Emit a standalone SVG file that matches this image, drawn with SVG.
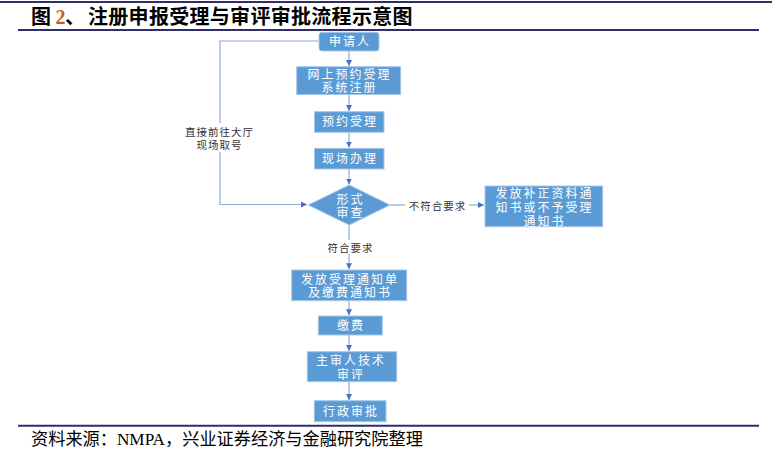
<svg xmlns="http://www.w3.org/2000/svg" width="781" height="473" viewBox="0 0 781 473">
<defs>
<style>
.rule{stroke:#2F2E6B;stroke-width:2;fill:none}
.box{fill:#5B9BD5;stroke:#A8C8EA;stroke-width:1}
.bt{font-family:"Noto Sans CJK SC","Noto Sans",sans-serif;font-size:12px;fill:#ffffff;letter-spacing:2px;text-anchor:middle}
.lbl{font-family:"Noto Sans CJK SC","Noto Sans",sans-serif;font-size:10.5px;fill:#333333;letter-spacing:1px;text-anchor:middle}
.con{stroke:#8FAADC;stroke-width:1.2;fill:none}
.title{font-family:"Noto Sans CJK SC",sans-serif;font-size:20px;font-weight:bold;fill:#000000}
.foot{font-family:"Liberation Serif","Noto Sans CJK SC",serif;font-size:17.2px;fill:#000000}
</style>
<marker id="arr" markerUnits="userSpaceOnUse" markerWidth="7" markerHeight="7" refX="6" refY="3" orient="auto">
<path d="M0,0 L6,3 L0,6 z" fill="#4472C4"/>
</marker>
</defs>
<rect width="781" height="473" fill="#ffffff"/>
<g id="header">
<line class="rule" x1="0" y1="2" x2="772" y2="2"/>
<text class="title" y="24"><tspan x="31">图</tspan><tspan x="55.5" font-family="Liberation Serif,serif" fill="#C0601A">2</tspan><tspan x="65">、</tspan><tspan x="88" letter-spacing="0.3">注册申报受理与审评审批流程示意图</tspan></text>
<line class="rule" x1="18" y1="30" x2="759" y2="30"/>
</g>
<g id="connectors">
<path class="con" d="M318,41 H220 V123"/>
<path class="con" d="M220,152 V204.5 H307" marker-end="url(#arr)"/>
<path class="con" d="M349,51 V66" marker-end="url(#arr)"/>
<path class="con" d="M349,94.5 V111" marker-end="url(#arr)"/>
<path class="con" d="M349,132.3 V147.6" marker-end="url(#arr)"/>
<path class="con" d="M349,169 V184.5" marker-end="url(#arr)"/>
<path class="con" d="M349,225 V240"/>
<path class="con" d="M349,254 V269.3" marker-end="url(#arr)"/>
<path class="con" d="M390,205 H405"/>
<path class="con" d="M469,205 H484" marker-end="url(#arr)"/>
<path class="con" d="M349,300.7 V315.3" marker-end="url(#arr)"/>
<path class="con" d="M349,335 V351" marker-end="url(#arr)"/>
<path class="con" d="M349,381.7 V400" marker-end="url(#arr)"/>
<text class="lbl" x="219.5" y="135.5">直接前往大厅</text>
<text class="lbl" x="219.5" y="149">现场取号</text>
<text class="lbl" x="437.5" y="209.5">不符合要求</text>
<text class="lbl" x="350.5" y="251.5">符合要求</text>
</g>
<g id="n-applicant">
<rect class="box" x="319" y="32.3" width="60" height="18.7" rx="3"/>
<text class="bt" x="350" y="46.2" letter-spacing="3">申请人</text>
</g>
<g id="n-online">
<rect class="box" x="296.7" y="66.7" width="104" height="27.8"/>
<text class="bt" x="349.5" y="78.5">网上预约受理</text>
<text class="bt" x="349.5" y="92">系统注册</text>
</g>
<g id="n-reserve">
<rect class="box" x="314.5" y="111.7" width="69.5" height="20.6"/>
<text class="bt" x="350" y="126.3">预约受理</text>
</g>
<g id="n-onsite">
<rect class="box" x="314.5" y="148.3" width="69.5" height="20.7"/>
<text class="bt" x="350" y="163">现场办理</text>
</g>
<g id="n-formal">
<polygon class="box" points="349.2,185 390,205 349.2,225 308.3,205"/>
<text class="bt" x="350.5" y="203.5" letter-spacing="3">形式</text>
<text class="bt" x="350.5" y="217.2" letter-spacing="3">审查</text>
</g>
<g id="n-reject">
<rect class="box" x="485" y="186" width="117.7" height="40.7"/>
<text class="bt" x="544.5" y="197.8">发放补正资料通</text>
<text class="bt" x="544.5" y="212.2">知书或不予受理</text>
<text class="bt" x="544.5" y="225.5">通知书</text>
</g>
<g id="n-accept">
<rect class="box" x="291.7" y="270" width="115" height="30.7"/>
<text class="bt" x="350" y="283.8">发放受理通知单</text>
<text class="bt" x="350" y="297.2">及缴费通知书</text>
</g>
<g id="n-fee">
<rect class="box" x="318.3" y="316" width="64" height="19"/>
<text class="bt" x="351" y="330" letter-spacing="3">缴费</text>
</g>
<g id="n-review">
<rect class="box" x="307.3" y="351.7" width="89.4" height="30"/>
<text class="bt" x="351" y="365.2">主审人技术</text>
<text class="bt" x="351" y="378.5">审评</text>
</g>
<g id="n-approve">
<rect class="box" x="314.3" y="400.7" width="71.7" height="21"/>
<text class="bt" x="351" y="415.5">行政审批</text>
</g>
<g id="footer">
<line class="rule" x1="18" y1="425.8" x2="759" y2="425.8"/>
<text class="foot" x="31" y="444.5">资料来源：NMPA，兴业证券经济与金融研究院整理</text>
</g>
</svg>
